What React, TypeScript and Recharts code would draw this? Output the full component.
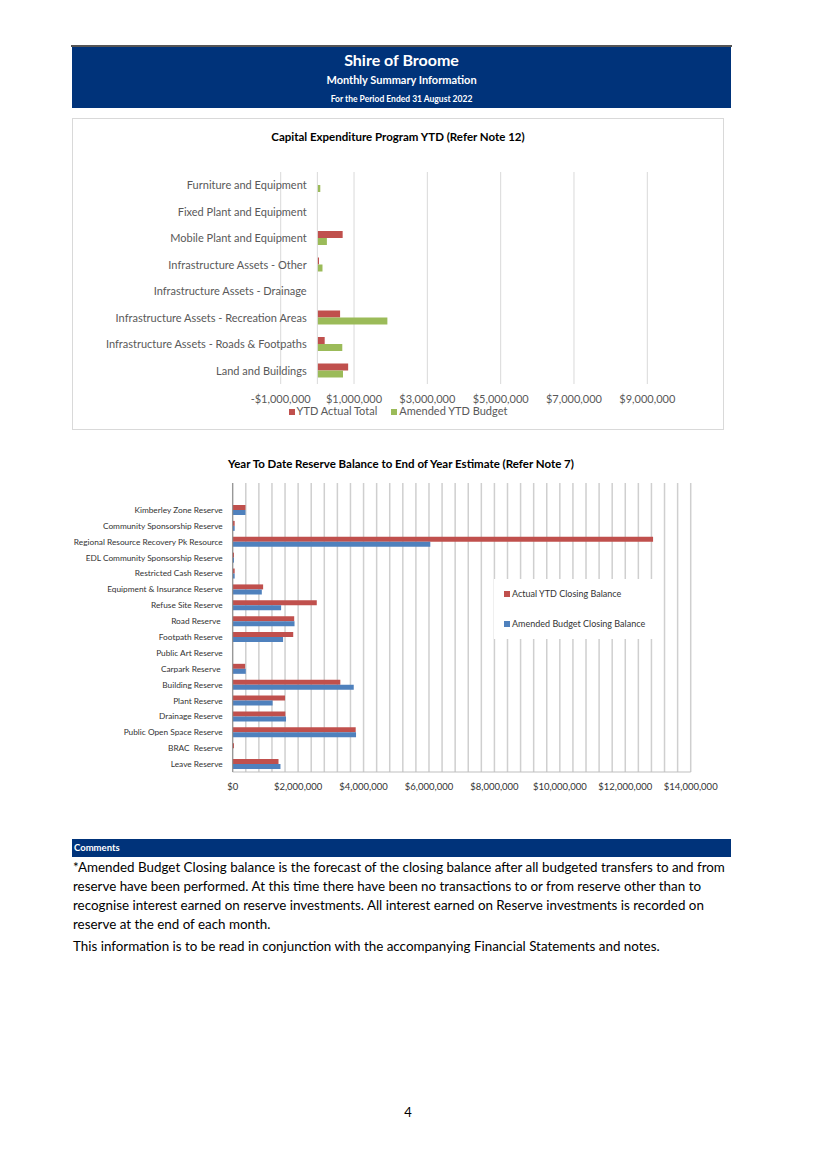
import React from "react";
import {
  BarChart,
  Bar,
  XAxis,
  YAxis,
  CartesianGrid,
  ReferenceLine,
} from "recharts";

// Capital expenditure chart (top to bottom)
const capCategories = [
  "Furniture and Equipment",
  "Fixed Plant and Equipment",
  "Mobile Plant and Equipment",
  "Infrastructure Assets - Other",
  "Infrastructure Assets - Drainage",
  "Infrastructure Assets - Recreation Areas",
  "Infrastructure Assets - Roads & Footpaths",
  "Land and Buildings",
];
const capActual = [0, 0, 690000, 45000, 0, 620000, 200000, 840000];
const capBudget = [80000, 0, 260000, 140000, 0, 1910000, 680000, 700000];
const capTicks = [-1000000, 1000000, 3000000, 5000000, 7000000, 9000000];

// Reserve balances chart (top to bottom)
const resCategories = [
  "Kimberley Zone Reserve",
  "Community Sponsorship Reserve",
  "Regional Resource Recovery Pk Resource",
  "EDL Community Sponsorship Reserve",
  "Restricted Cash Reserve",
  "Equipment & Insurance Reserve",
  "Refuse Site Reserve",
  "Road Reserve ",
  "Footpath Reserve",
  "Public Art Reserve",
  "Carpark Reserve ",
  "Building Reserve",
  "Plant Reserve",
  "Drainage Reserve",
  "Public Open Space Reserve",
  "BRAC  Reserve",
  "Leave Reserve",
];
const resActual = [
  390000, 60000, 12850000, 40000, 60000, 930000, 2570000, 1880000, 1850000, 0,
  380000, 3290000, 1600000, 1610000, 3760000, 40000, 1400000,
];
const resBudget = [
  390000, 60000, 6040000, 40000, 60000, 890000, 1480000, 1890000, 1540000, 0,
  400000, 3700000, 1220000, 1630000, 3770000, 0, 1460000,
];
// gridlines every 400k, labels every 2M
const resTicks = Array.from({ length: 36 }, (_, i) => i * 400000);
const RES_LABEL_STEP = 2000000;

const NAVY = "#00337a";
const RED = "#C0504D";
const GREEN = "#9BBB59";
const BLUE = "#4F81BD";
const FONT = "Lato, 'Open Sans', sans-serif";

const money = (v: number) =>
  (v < 0 ? "-" : "") + "$" + Math.abs(v).toLocaleString("en-US");

const capData = capCategories.map((name, i) => ({
  name,
  actual: capActual[i],
  budget: capBudget[i],
}));
const resData = resCategories.map((name, i) => ({
  name,
  actual: resActual[i],
  budget: resBudget[i],
}));

const CapYTick = ({ x, y, payload }: any) => (
  <text x={x + 34} y={y} dy={4} textAnchor="end" fontSize={11} fill="#595959" fontFamily={FONT}>
    {payload.value}
  </text>
);
const CapXTick = ({ x, y, payload }: any) => (
  <text x={x} y={y} dy={11} textAnchor="middle" fontSize={11} fill="#595959" fontFamily={FONT}>
    {money(payload.value)}
  </text>
);
const ResYTick = ({ x, y, payload }: any) => (
  <text x={x - 2} y={y} dy={3} textAnchor="end" fontSize={8.3} fill="#333" fontFamily={FONT} style={{ whiteSpace: "pre" }}>
    {payload.value}
  </text>
);
const ResXTick = ({ x, y, payload }: any) =>
  payload.value % RES_LABEL_STEP === 0 ? (
    <text x={x} y={y} dy={10} textAnchor="middle" fontSize={9.5} fill="#333" fontFamily={FONT}>
      {money(payload.value)}
    </text>
  ) : (
    <g />
  );

const Swatch = ({ color }: { color: string }) => (
  <span style={{ display: "inline-block", width: 6, height: 6, background: color, marginRight: 2 }} />
);

const commentLines = [
  "*Amended Budget Closing balance is the forecast of the closing balance after all budgeted transfers to and from",
  "reserve have been performed. At this time there have been no transactions to or from reserve other than to",
  "recognise interest earned on reserve investments. All interest earned on Reserve investments is recorded on",
  "reserve at the end of each month.",
];

export default function App() {
  return (
    <div
      style={{
        position: "absolute",
        left: 0,
        top: 0,
        width: 816,
        height: 1155,
        background: "#fff",
        fontFamily: FONT,
        color: "#000",
      }}
    >
      {/* Header band */}
      <div style={{ position: "absolute", left: 71, top: 45, width: 661, height: 2, background: "#555" }} />
      <div
        style={{
          position: "absolute",
          left: 72,
          top: 47,
          width: 659,
          height: 61,
          background: NAVY,
          color: "#fff",
          textAlign: "center",
          fontWeight: 700,
        }}
      >
        <div style={{ position: "absolute", top: 3, width: "100%", fontSize: 16 }}>Shire of Broome</div>
        <div style={{ position: "absolute", top: 26, width: "100%", fontSize: 11 }}>Monthly Summary Information</div>
        <div style={{ position: "absolute", top: 47, width: "100%", fontSize: 8.5 }}>For the Period Ended 31 August 2022</div>
      </div>

      {/* Chart 1 */}
      <div
        style={{
          position: "absolute",
          left: 72,
          top: 118,
          width: 652,
          height: 312,
          border: "1px solid #d9d9d9",
          boxSizing: "border-box",
        }}
      />
      <div
        style={{
          position: "absolute",
          left: 72,
          top: 130,
          width: 652,
          textAlign: "center",
          fontWeight: 700,
          fontSize: 11.5,
          color: "#000",
        }}
      >
        Capital Expenditure Program YTD (Refer Note 12)
      </div>
      <div style={{ position: "absolute", left: 72, top: 118 }}>
        <BarChart
          width={652}
          height={312}
          data={capData}
          layout="vertical"
          margin={{ top: 54, right: 76.7, bottom: 0, left: 0 }}
          barGap={0}
          barSize={7}
        >
          <CartesianGrid horizontal={false} stroke="#d9d9d9" />
          <XAxis
            type="number"
            domain={[-1000000, 9000000]}
            ticks={capTicks}
            axisLine={false}
            tickLine={false}
            tick={<CapXTick />}
            height={46}
            interval={0}
          />
          <YAxis
            type="category"
            dataKey="name"
            width={208.7}
            axisLine={false}
            tickLine={false}
            tick={<CapYTick />}
            interval={0}
          />
          <ReferenceLine x={0} stroke="#d9d9d9" />
          <Bar dataKey="actual" fill={RED} isAnimationActive={false} />
          <Bar dataKey="budget" fill={GREEN} isAnimationActive={false} />
        </BarChart>
      </div>
      <div
        style={{
          position: "absolute",
          left: 72,
          top: 404,
          width: 652,
          textAlign: "center",
          fontSize: 11,
          color: "#595959",
          whiteSpace: "nowrap",
        }}
      >
        <Swatch color={RED} />
        YTD Actual Total
        <span style={{ display: "inline-block", width: 14 }} />
        <Swatch color={GREEN} />
        Amended YTD Budget
      </div>

      {/* Chart 2 */}
      <div
        style={{
          position: "absolute",
          left: 72,
          top: 457,
          width: 658,
          textAlign: "center",
          fontWeight: 700,
          fontSize: 11.5,
        }}
      >
        Year To Date Reserve Balance to End of Year Estimate (Refer Note 7)
      </div>
      <div style={{ position: "absolute", left: 72, top: 475 }}>
        <BarChart
          width={652}
          height={330}
          data={resData}
          layout="vertical"
          margin={{ top: 8, right: 33.3, bottom: 0, left: 0 }}
          barGap={0}
          barSize={5}
        >
          <CartesianGrid horizontal={false} stroke="#cfcfcf" strokeWidth={1.5} />
          <XAxis
            type="number"
            domain={[0, 14000000]}
            ticks={resTicks}
            axisLine={{ stroke: "#bfbfbf" }}
            tickLine={false}
            tick={<ResXTick />}
            height={33}
            interval={0}
          />
          <YAxis
            type="category"
            dataKey="name"
            width={160.7}
            axisLine={{ stroke: "#8c8c8c" }}
            tickLine={false}
            tick={<ResYTick />}
            interval={0}
            padding={{ top: 19, bottom: 0 }}
          />
          <Bar dataKey="actual" fill={RED} isAnimationActive={false} />
          <Bar dataKey="budget" fill={BLUE} isAnimationActive={false} />
        </BarChart>
      </div>
      <div
        style={{
          position: "absolute",
          left: 494,
          top: 579,
          width: 161,
          height: 60,
          background: "#fff",
          fontSize: 9,
          color: "#333",
          whiteSpace: "nowrap",
        }}
      >
        <div style={{ position: "absolute", left: 10, top: 9 }}>
          <Swatch color={RED} />
          Actual YTD Closing Balance
        </div>
        <div style={{ position: "absolute", left: 10, top: 39 }}>
          <Swatch color={BLUE} />
          Amended Budget Closing Balance
        </div>
      </div>

      {/* Comments */}
      <div
        style={{
          position: "absolute",
          left: 72,
          top: 839,
          width: 659,
          height: 18,
          background: NAVY,
          color: "#fff",
          fontWeight: 700,
          fontSize: 9.5,
          lineHeight: "18px",
          paddingLeft: 2,
          boxSizing: "border-box",
        }}
      >
        Comments
      </div>
      <div style={{ position: "absolute", left: 73, top: 858, fontSize: 13.4, lineHeight: "19px", whiteSpace: "nowrap" }}>
        {commentLines.map((l) => (
          <div key={l}>{l}</div>
        ))}
        <div style={{ marginTop: 3 }}>
          This information is to be read in conjunction with the accompanying Financial Statements and notes.
        </div>
      </div>

      <div style={{ position: "absolute", left: 0, top: 1104, width: 816, textAlign: "center", fontSize: 13 }}>4</div>
    </div>
  );
}
